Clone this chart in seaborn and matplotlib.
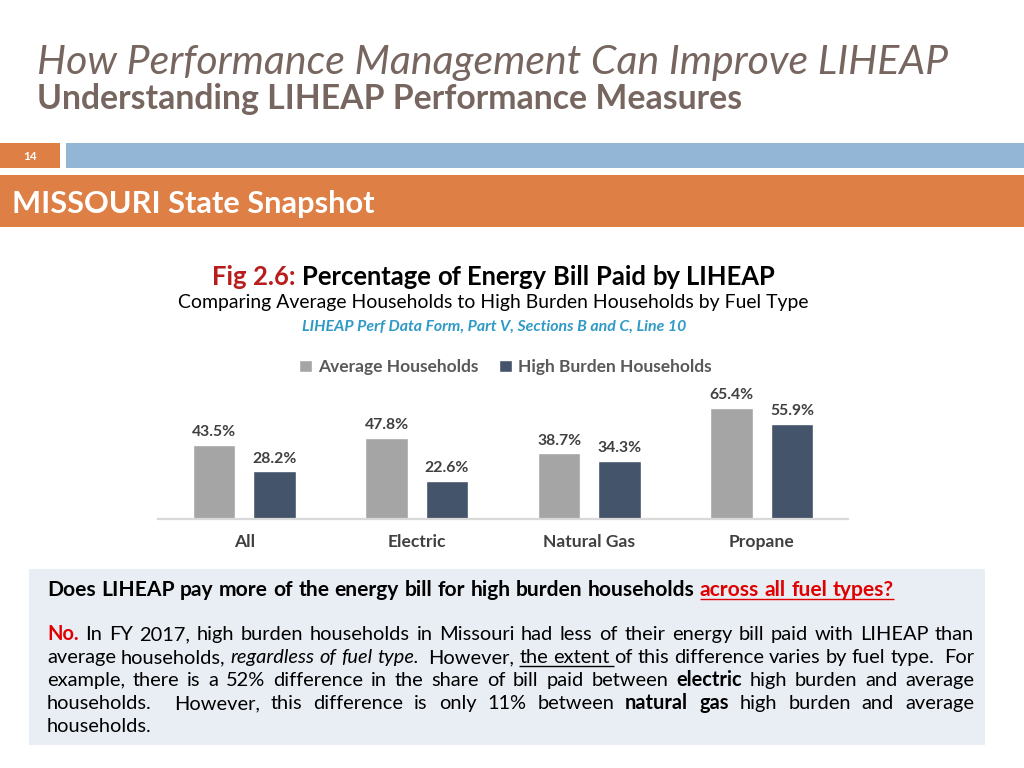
import re
import matplotlib
matplotlib.use("Agg")
import matplotlib.pyplot as plt
import seaborn as sns
import pandas as pd
from matplotlib.patches import Rectangle

# ---------------- data ----------------
categories = ["All", "Electric", "Natural Gas", "Propane"]
series_names = ["Average Households", "High Burden Households"]
average_households = [43.5, 47.8, 38.7, 65.4]
high_burden_households = [28.2, 22.6, 34.3, 55.9]

df = pd.DataFrame({
    "Fuel": categories * 2,
    "Series": [series_names[0]] * len(categories) + [series_names[1]] * len(categories),
    "Value": average_households + high_burden_households,
})

sns.set_theme(style="white")
plt.rcParams['font.family'] = ['Lato', 'DejaVu Sans']

W, H = 1024, 768
fig = plt.figure(figsize=(10.24, 7.68), dpi=100)
fig.patch.set_facecolor("white")
bg = fig.add_axes([0, 0, 1, 1])
bg.set_xlim(0, W)
bg.set_ylim(H, 0)
bg.axis('off')
bg.set_zorder(0)

fig.canvas.draw()
R = fig.canvas.get_renderer()


def tw(s, **kw):
    t = bg.text(0, 0, s, **kw)
    w = t.get_window_extent(R).width
    t.remove()
    return w


def fit(s, target, **kw):
    return 10.0 * target / tw(s, fontsize=10, **kw)


def layout_line(x0, y, segments, fs, width=None, align='left'):
    toks = []
    pending = 0
    for si, (text, kw, ul) in enumerate(segments):
        for p in re.split(r'( +)', text):
            if not p:
                continue
            if p[0] == ' ':
                pending += len(p)
            else:
                toks.append([p, kw, ul, si, pending if toks else 0])
                pending = 0
    sp = tw("a a", fontsize=fs) - tw("aa", fontsize=fs)
    ws = [tw(t[0], fontsize=fs, **t[1]) for t in toks]
    gaps = [t[4] * sp for t in toks]
    if width is not None and len(toks) > 1:
        extra = width - sum(ws) - sum(gaps)
        wsum = sum(t[4] for t in toks)
        gaps = [g + extra * t[4] / wsum for g, t in zip(gaps, toks)]
    total = sum(ws) + sum(gaps)
    x = x0 - total / 2 if align == 'center' else x0
    ul_spans = {}
    for t, w, g in zip(toks, ws, gaps):
        x += g
        bg.text(x, y, t[0], fontsize=fs, va='baseline', ha='left', **t[1])
        if t[2]:
            a, b, c = ul_spans.get(t[3], (x, x + w, t[1].get('color', 'black')))
            ul_spans[t[3]] = (min(a, x), x + w, c)
        x += w
    for si, (a, b, c) in ul_spans.items():
        if segments[si][0].endswith(' '):
            b += sp
        bg.plot([a, b], [y + fs * 0.22, y + fs * 0.22], color=c, lw=1.0, solid_capstyle='butt')


# ---------------- slide header ----------------
title_col = "#76665f"
s_title = "How Performance Management Can Improve LIHEAP"
fs = fit(s_title, 910, style='italic')
bg.text(37, 74, s_title, fontsize=fs, style='italic', color=title_col, va='baseline')
s_sub = "Understanding LIHEAP Performance Measures"
fs = fit(s_sub, 708, fontweight='bold')
bg.text(37, 109, s_sub, fontsize=fs, fontweight='bold', color=title_col, va='baseline')

orange = "#de7f45"
bg.add_patch(Rectangle((0, 143), 60, 25, color=orange, lw=0))
bg.add_patch(Rectangle((66, 143), W - 66, 25, color="#93b5d6", lw=0))
bg.text(30, 156, "14", fontsize=8.5, color="white", ha='center', va='center', fontweight='bold')
bg.add_patch(Rectangle((0, 175), W, 52, color=orange, lw=0))
s_band = "MISSOURI State Snapshot"
fs = fit(s_band, 362, fontweight='bold')
bg.text(12, 213, s_band, fontsize=fs, fontweight='bold', color='white', va='baseline')

# ---------------- chart titles ----------------
runs = [("Fig 2.6:", {'fontweight': 'bold', 'color': '#b81c1c'}, False),
        (" Percentage of Energy Bill Paid by LIHEAP", {'fontweight': 'bold', 'color': 'black'}, False)]
fs = fit("Fig 2.6: Percentage of Energy Bill Paid by LIHEAP", 563, fontweight='bold')
layout_line(493.5, 285, runs, fs, align='center')

s2 = "Comparing Average Households to High Burden Households by Fuel Type"
fs = fit(s2, 630)
bg.text(493, 308, s2, fontsize=fs, color='black', ha='center', va='baseline')

s3 = "LIHEAP Perf Data Form, Part V, Sections B and C, Line 10"
fs = fit(s3, 382, fontweight='bold', style='italic')
bg.text(494, 331, s3, fontsize=fs, fontweight='bold', style='italic', color='#2f9ac6',
        ha='center', va='baseline')

# ---------------- bar chart ----------------
def px_axes(x0, y0, x1, y1):
    return fig.add_axes([x0 / W, 1 - y1 / H, (x1 - x0) / W, (y1 - y0) / H])

ax = px_axes(158, 400, 848, 519)
ax.set_zorder(2)
pal = {series_names[0]: "#a5a5a5", series_names[1]: "#44546a"}
sns.barplot(data=df, x="Fuel", y="Value", hue="Series", palette=pal, width=0.7, gap=0.3,
            saturation=1, ax=ax, legend=True)
ax.set_ylim(0, 70)
ax.set_xlim(-0.5, 3.5)
ax.patch.set_alpha(0)
for s in ['top', 'right', 'left']:
    ax.spines[s].set_visible(False)
ax.spines['bottom'].set_color('#d9d9d9')
ax.spines['bottom'].set_linewidth(1.6)
ax.set_yticks([])
ax.set_xlabel('')
ax.set_ylabel('')
fs_cat = fit("Natural Gas", 92, fontweight='bold')
ax.tick_params(axis='x', length=0, pad=11, labelsize=fs_cat, labelcolor='#404040')
for lab in ax.get_xticklabels():
    lab.set_fontweight('bold')
fs_val = fit("43.5%", 44, fontweight='bold')
for c in ax.containers:
    ax.bar_label(c, fmt='%.1f%%', padding=4, fontsize=fs_val, fontweight='bold', color='#404040')

handles, labels = ax.get_legend_handles_labels()
fs_leg = fit("Average Households", 161, fontweight='bold')
leg = ax.legend(handles, labels, loc='center', bbox_to_anchor=((505.5 - 158) / 690, (519 - 367) / 119),
                ncol=2, frameon=False, handlelength=0.75, handleheight=0.75, columnspacing=1.2,
                handletextpad=0.35, prop={'weight': 'bold', 'size': fs_leg})
for t in leg.get_texts():
    t.set_color('#595959')

# ---------------- text box ----------------
bg.add_patch(Rectangle((29, 569), 956, 176, color="#e9eef5", lw=0))

q_runs = [("Does LIHEAP pay more of the energy bill for high burden households ", {'fontweight': 'bold', 'color': 'black'}, False),
          ("across all fuel types?", {'fontweight': 'bold', 'color': '#e00000'}, True)]
fs_q = fit("Does LIHEAP pay more of the energy bill for high burden households across all fuel types?", 843, fontweight='bold')
layout_line(47, 596, q_runs, fs_q)

N = {'color': 'black'}
I = {'color': 'black', 'style': 'italic'}
B = {'color': 'black', 'fontweight': 'bold'}
RB = {'color': '#e00000', 'fontweight': 'bold'}
para = [
    [("No.", RB, False), (" In FY 2017, high burden households in Missouri had less of their energy bill paid with LIHEAP than", N, False)],
    [("average households, ", N, False), ("regardless of fuel type.", I, False), ("  However, ", N, False),
     ("the extent ", N, True), ("of this difference varies by fuel type.  For", N, False)],
    [("example, there is a 52% difference in the share of bill paid between ", N, False), ("electric", B, False),
     (" high burden and average", N, False)],
    [("households.  However, this difference is only 11% between ", N, False), ("natural gas", B, False),
     (" high burden and average", N, False)],
    [("households.", N, False)],
]
fs_p = min(fit("households.", 105), fit("No. In FY 2017, high burden households in Missouri had less of their energy bill paid with LIHEAP than", 905))
for i, line in enumerate(para):
    last = i == len(para) - 1
    layout_line(47, 640 + 23 * i, line, fs_p, width=None if last else 927)

fig.savefig("out.png", dpi=100)
